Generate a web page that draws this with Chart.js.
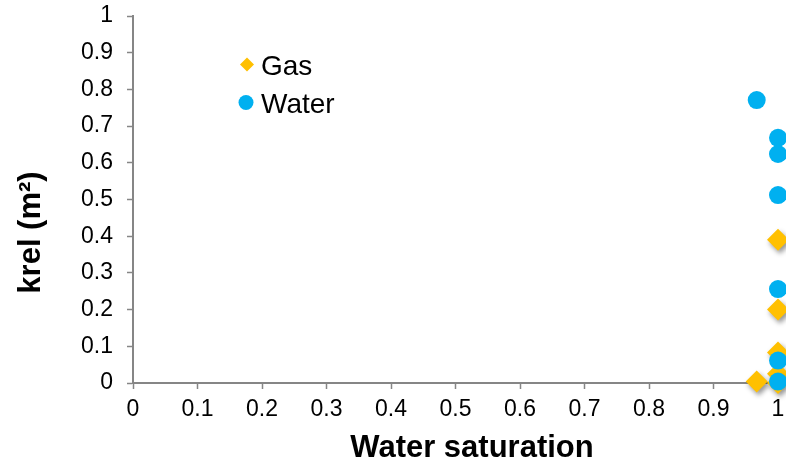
<!DOCTYPE html>
<html>
<head>
<meta charset="utf-8">
<script src="https://cdn.jsdelivr.net/npm/chart.js@4.4.1/dist/chart.umd.min.js"></script>
<style>
  html, body { margin: 0; padding: 0; background: #ffffff; }
  #wrap { position: relative; width: 786px; height: 461px; }
</style>
</head>
<body>
<div id="wrap"><canvas id="c" width="786" height="461"></canvas></div>
<script>
// ---- data ----
const gasX   = [1.0, 1.0, 1.0, 1.0, 0.967, 1.0];
const gasY   = [0.39, 0.20, 0.083, 0.025, 0.004, 0.0];
const waterX = [0.967, 1.0, 1.0, 1.0, 1.0, 1.0, 1.0];
const waterY = [0.771, 0.668, 0.624, 0.512, 0.256, 0.061, 0.004];
const xTickLabels = ['0','0.1','0.2','0.3','0.4','0.5','0.6','0.7','0.8','0.9','1'];
const yTickLabels = ['0','0.1','0.2','0.3','0.4','0.5','0.6','0.7','0.8','0.9','1'];
const seriesNames = ['Gas', 'Water'];
const xTitle = 'Water saturation';
const yTitle = 'krel (m\u00B2)';

const GAS_COLOR = '#FFC000';
const WATER_COLOR = '#00B0F0';
const AXIS_COLOR = '#868686';
const FONT = '"Liberation Sans", Arial, sans-serif';

const toPoints = (xs, ys) => xs.map((x, i) => ({ x: x, y: ys[i] }));

const shadowPlugin = {
  id: 'gasShadow',
  beforeDatasetDraw(chart, args) {
    const ctx = chart.ctx;
    ctx.save();
    if (chart.data.datasets[args.index].label === seriesNames[0]) {
      ctx.shadowColor = 'rgba(0,0,0,0.42)';
      ctx.shadowBlur = 5;
      ctx.shadowOffsetX = 2;
      ctx.shadowOffsetY = 3;
    }
  },
  afterDatasetDraw(chart) { chart.ctx.restore(); }
};

const decorPlugin = {
  id: 'decor',
  afterDraw(chart) {
    const ctx = chart.ctx;
    ctx.save();
    // legend
    ctx.fillStyle = GAS_COLOR;
    const gx = 247, gy = 64.5, gr = 7;
    ctx.beginPath();
    ctx.moveTo(gx, gy - gr); ctx.lineTo(gx + gr, gy); ctx.lineTo(gx, gy + gr); ctx.lineTo(gx - gr, gy);
    ctx.closePath(); ctx.fill();
    ctx.fillStyle = WATER_COLOR;
    ctx.beginPath(); ctx.arc(246, 102.5, 7.5, 0, Math.PI * 2); ctx.fill();
    ctx.fillStyle = '#000000';
    ctx.font = '28px ' + FONT;
    ctx.textAlign = 'left';
    ctx.textBaseline = 'alphabetic';
    ctx.fillText(seriesNames[0], 261, 74.5);
    ctx.fillText(seriesNames[1], 261, 113);
    // axis titles
    ctx.font = 'bold 31px ' + FONT;
    ctx.textAlign = 'center';
    ctx.fillText(xTitle, 472, 456.5);
    ctx.translate(39.5, 232.5);
    ctx.rotate(-Math.PI / 2);
    ctx.fillText(yTitle, 0, 0);
    ctx.restore();
  }
};

new Chart(document.getElementById('c'), {
  type: 'scatter',
  data: {
    datasets: [
      {
        label: seriesNames[0],
        data: toPoints(gasX, gasY),
        pointStyle: 'rectRot',
        pointRadius: 11,
        backgroundColor: GAS_COLOR,
        borderColor: GAS_COLOR,
        borderWidth: 0,
        order: 1,
        clip: false
      },
      {
        label: seriesNames[1],
        data: toPoints(waterX, waterY),
        pointStyle: 'circle',
        pointRadius: 9,
        backgroundColor: WATER_COLOR,
        borderColor: WATER_COLOR,
        borderWidth: 0,
        order: 0,
        clip: false
      }
    ]
  },
  options: {
    responsive: false,
    animation: false,
    devicePixelRatio: 1,
    layout: { autoPadding: false, padding: { left: 0, top: 16, right: 8, bottom: 0 } },
    plugins: { legend: { display: false }, tooltip: { enabled: false } },
    scales: {
      x: {
        type: 'linear', min: 0, max: 1,
        afterFit(scale) { scale.height = 78; scale.paddingLeft = 0; scale.paddingRight = 0; },
        border: { display: true, color: AXIS_COLOR, width: 2 },
        grid: { display: true, drawOnChartArea: false, drawTicks: true, tickLength: 6, color: AXIS_COLOR, tickColor: AXIS_COLOR, tickWidth: 1.5 },
        ticks: {
          stepSize: 0.1, color: '#000000', padding: 0, maxRotation: 0, autoSkip: false,
          font: { family: FONT, size: 23, lineHeight: 1.8 },
          callback: (v, i) => xTickLabels[i]
        }
      },
      y: {
        type: 'linear', min: 0, max: 1,
        afterFit(scale) { scale.width = 133; scale.paddingTop = 0; scale.paddingBottom = 0; },
        border: { display: true, color: AXIS_COLOR, width: 2 },
        grid: { display: true, drawOnChartArea: false, drawTicks: true, tickLength: 6, color: AXIS_COLOR, tickColor: AXIS_COLOR, tickWidth: 1.5 },
        ticks: {
          stepSize: 0.1, color: '#000000', padding: 14, autoSkip: false,
          font: { family: FONT, size: 23 },
          callback: (v, i) => yTickLabels[i]
        }
      }
    }
  },
  plugins: [shadowPlugin, decorPlugin]
});
</script>
</body>
</html>
